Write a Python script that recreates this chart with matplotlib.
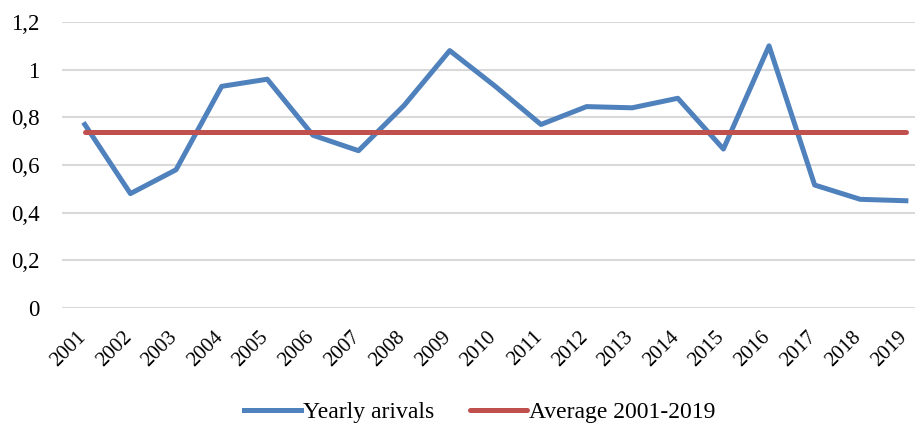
import matplotlib.pyplot as plt
import matplotlib.transforms as mtransforms

years = [str(y) for y in range(2001, 2020)]
yearly = [0.77, 0.48, 0.58, 0.93, 0.96, 0.725, 0.66, 0.85, 1.08, 0.93,
          0.77, 0.845, 0.84, 0.88, 0.667, 1.10, 0.516, 0.456, 0.45]
average = [0.738] * len(years)

plt.rcParams['font.family'] = ['Liberation Serif', 'DejaVu Serif']

fig = plt.figure(figsize=(9.15, 4.28), dpi=100)
ax = fig.add_axes([62 / 915, 120 / 428, 1 - 62 / 915, 286 / 428])

x = list(range(len(years)))
ax.plot(x, yearly, color='#4F81BD', lw=3.6, label='Yearly arivals', solid_joinstyle='round')
ax.plot(x, average, color='#C0504D', lw=3.6, label='Average 2001-2019', solid_capstyle='round')

ax.set_xlim(-0.5, 18.2)
ax.set_ylim(0, 1.2)
ax.set_yticks([0, 0.2, 0.4, 0.6, 0.8, 1.0, 1.2])
ax.set_yticklabels(['0', '0,2', '0,4', '0,6', '0,8', '1', '1,2'], fontsize=16.5)
ax.grid(axis='y', color='#D9D9D9', lw=1.5)
ax.set_axisbelow(True)
ax.set_xticks(x)
ax.set_xticklabels([])

# rotated year labels, anchored at their top-right corner just under the axis
trans = mtransforms.blended_transform_factory(ax.transData, ax.transAxes)
trans = trans + mtransforms.ScaledTranslation(-6 / 72, -14 / 72, fig.dpi_scale_trans)
for i, yr in zip(x, years):
    ax.text(i, 0, yr, transform=trans, fontsize=15, rotation=45,
            ha='right', va='top', rotation_mode='anchor')

ax.tick_params(length=0)
ax.tick_params(axis='y', pad=16)
for s in ax.spines.values():
    s.set_visible(False)

fig.legend(loc='center', bbox_to_anchor=(480 / 915, 16 / 428), ncol=2, frameon=False,
           fontsize=17, handlelength=2.4, handletextpad=0.1, columnspacing=1.5)

fig.savefig('out.png', dpi=100)
